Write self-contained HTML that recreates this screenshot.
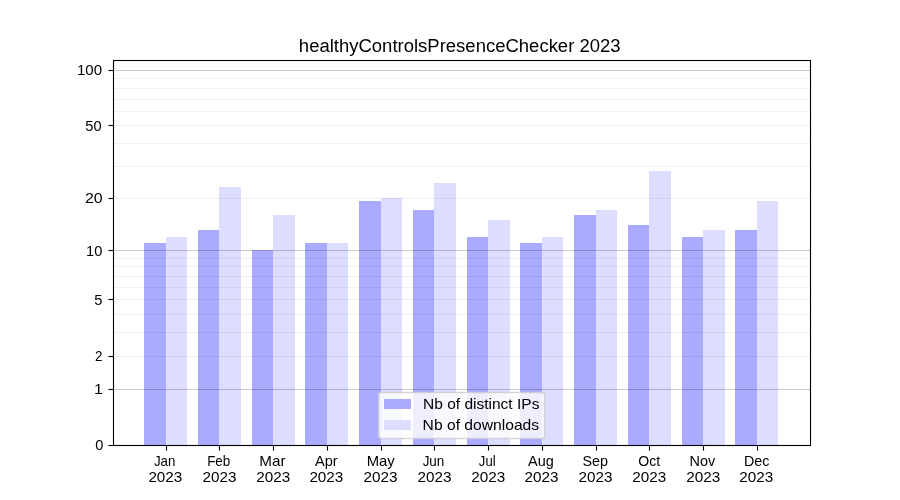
<!DOCTYPE html>
<html><head><meta charset="utf-8"><title>healthyControlsPresenceChecker 2023</title>
<style>
html,body{margin:0;padding:0;background:#fff;overflow:hidden;}
svg{display:block;will-change:transform;}
text{font-family:"Liberation Sans",sans-serif;fill:#000;}
</style></head><body>
<svg width="900" height="500" viewBox="0 0 900 500">
<rect x="0" y="0" width="900" height="500" fill="#fff"/>
<g shape-rendering="crispEdges">
<rect x="144" y="243" width="22" height="202" fill="#aaaaff"/>
<rect x="166" y="237" width="21" height="208" fill="#ddddff"/>
<rect x="198" y="230" width="21" height="215" fill="#aaaaff"/>
<rect x="219" y="187" width="22" height="258" fill="#ddddff"/>
<rect x="252" y="250" width="21" height="195" fill="#aaaaff"/>
<rect x="273" y="215" width="22" height="230" fill="#ddddff"/>
<rect x="305" y="243" width="22" height="202" fill="#aaaaff"/>
<rect x="327" y="243" width="21" height="202" fill="#ddddff"/>
<rect x="359" y="201" width="22" height="244" fill="#aaaaff"/>
<rect x="381" y="198" width="21" height="247" fill="#ddddff"/>
<rect x="413" y="210" width="21" height="235" fill="#aaaaff"/>
<rect x="434" y="183" width="22" height="262" fill="#ddddff"/>
<rect x="467" y="237" width="21" height="208" fill="#aaaaff"/>
<rect x="488" y="220" width="22" height="225" fill="#ddddff"/>
<rect x="520" y="243" width="22" height="202" fill="#aaaaff"/>
<rect x="542" y="237" width="21" height="208" fill="#ddddff"/>
<rect x="574" y="215" width="22" height="230" fill="#aaaaff"/>
<rect x="596" y="210" width="21" height="235" fill="#ddddff"/>
<rect x="628" y="225" width="21" height="220" fill="#aaaaff"/>
<rect x="649" y="171" width="22" height="274" fill="#ddddff"/>
<rect x="682" y="237" width="21" height="208" fill="#aaaaff"/>
<rect x="703" y="230" width="22" height="215" fill="#ddddff"/>
<rect x="735" y="230" width="22" height="215" fill="#aaaaff"/>
<rect x="757" y="201" width="21" height="244" fill="#ddddff"/>
<rect x="113" y="356" width="697" height="1" fill="#000" fill-opacity="0.06"/>
<rect x="113" y="332" width="697" height="1" fill="#000" fill-opacity="0.06"/>
<rect x="113" y="314" width="697" height="1" fill="#000" fill-opacity="0.06"/>
<rect x="113" y="299" width="697" height="1" fill="#000" fill-opacity="0.06"/>
<rect x="113" y="287" width="697" height="1" fill="#000" fill-opacity="0.06"/>
<rect x="113" y="276" width="697" height="1" fill="#000" fill-opacity="0.06"/>
<rect x="113" y="266" width="697" height="1" fill="#000" fill-opacity="0.06"/>
<rect x="113" y="258" width="697" height="1" fill="#000" fill-opacity="0.06"/>
<rect x="113" y="198" width="697" height="1" fill="#000" fill-opacity="0.06"/>
<rect x="113" y="166" width="697" height="1" fill="#000" fill-opacity="0.06"/>
<rect x="113" y="143" width="697" height="1" fill="#000" fill-opacity="0.06"/>
<rect x="113" y="125" width="697" height="1" fill="#000" fill-opacity="0.06"/>
<rect x="113" y="111" width="697" height="1" fill="#000" fill-opacity="0.06"/>
<rect x="113" y="99" width="697" height="1" fill="#000" fill-opacity="0.06"/>
<rect x="113" y="88" width="697" height="1" fill="#000" fill-opacity="0.06"/>
<rect x="113" y="78" width="697" height="1" fill="#000" fill-opacity="0.06"/>
<rect x="113" y="389" width="697" height="1" fill="#000" fill-opacity="0.2"/>
<rect x="113" y="250" width="697" height="1" fill="#000" fill-opacity="0.2"/>
<rect x="113" y="70" width="697" height="1" fill="#000" fill-opacity="0.2"/>
</g>
<rect x="378.600" y="392.500" width="166.000" height="46.000" rx="2.78" ry="2.78" fill="#fff" fill-opacity="0.8" stroke="#ccc" stroke-opacity="0.8" stroke-width="1.389"/>
<g shape-rendering="crispEdges">
<rect x="384" y="399" width="27" height="10" fill="#aaaaff"/>
<rect x="384" y="420" width="27" height="10" fill="#ddddff"/>
<g fill="#000" fill-opacity="0.0556"><rect x="113" y="59" width="698" height="1"/><rect x="113" y="61" width="697" height="1"/><rect x="113" y="444" width="698" height="1"/><rect x="108" y="446" width="703" height="1"/><rect x="112" y="60" width="1" height="386"/><rect x="114" y="61" width="1" height="384"/><rect x="809" y="61" width="1" height="384"/><rect x="811" y="60" width="1" height="386"/><rect x="108" y="388" width="5" height="1"/><rect x="108" y="390" width="5" height="1"/><rect x="108" y="355" width="5" height="1"/><rect x="108" y="357" width="5" height="1"/><rect x="108" y="298" width="5" height="1"/><rect x="108" y="300" width="5" height="1"/><rect x="108" y="249" width="5" height="1"/><rect x="108" y="251" width="5" height="1"/><rect x="108" y="197" width="5" height="1"/><rect x="108" y="199" width="5" height="1"/><rect x="108" y="124" width="5" height="1"/><rect x="108" y="126" width="5" height="1"/><rect x="108" y="69" width="5" height="1"/><rect x="108" y="71" width="5" height="1"/><rect x="165" y="447" width="1" height="4"/><rect x="167" y="447" width="1" height="4"/><rect x="218" y="447" width="1" height="4"/><rect x="220" y="447" width="1" height="4"/><rect x="272" y="447" width="1" height="4"/><rect x="274" y="447" width="1" height="4"/><rect x="326" y="447" width="1" height="4"/><rect x="328" y="447" width="1" height="4"/><rect x="380" y="447" width="1" height="4"/><rect x="382" y="447" width="1" height="4"/><rect x="433" y="447" width="1" height="4"/><rect x="435" y="447" width="1" height="4"/><rect x="487" y="447" width="1" height="4"/><rect x="489" y="447" width="1" height="4"/><rect x="541" y="447" width="1" height="4"/><rect x="543" y="447" width="1" height="4"/><rect x="595" y="447" width="1" height="4"/><rect x="597" y="447" width="1" height="4"/><rect x="648" y="447" width="1" height="4"/><rect x="650" y="447" width="1" height="4"/><rect x="702" y="447" width="1" height="4"/><rect x="704" y="447" width="1" height="4"/><rect x="756" y="447" width="1" height="4"/><rect x="758" y="447" width="1" height="4"/></g>
<rect x="113" y="60" width="698" height="1" fill="#000"/>
<rect x="113" y="445" width="698" height="1" fill="#000"/>
<rect x="113" y="60" width="1" height="386" fill="#000"/>
<rect x="810" y="60" width="1" height="386" fill="#000"/>
<rect x="109" y="445" width="4" height="1" fill="#000"/><rect x="108" y="445" width="1" height="1" fill="#000" fill-opacity="0.5"/>
<rect x="109" y="389" width="4" height="1" fill="#000"/><rect x="108" y="389" width="1" height="1" fill="#000" fill-opacity="0.5"/>
<rect x="109" y="356" width="4" height="1" fill="#000"/><rect x="108" y="356" width="1" height="1" fill="#000" fill-opacity="0.5"/>
<rect x="109" y="299" width="4" height="1" fill="#000"/><rect x="108" y="299" width="1" height="1" fill="#000" fill-opacity="0.5"/>
<rect x="109" y="250" width="4" height="1" fill="#000"/><rect x="108" y="250" width="1" height="1" fill="#000" fill-opacity="0.5"/>
<rect x="109" y="198" width="4" height="1" fill="#000"/><rect x="108" y="198" width="1" height="1" fill="#000" fill-opacity="0.5"/>
<rect x="109" y="125" width="4" height="1" fill="#000"/><rect x="108" y="125" width="1" height="1" fill="#000" fill-opacity="0.5"/>
<rect x="109" y="70" width="4" height="1" fill="#000"/><rect x="108" y="70" width="1" height="1" fill="#000" fill-opacity="0.5"/>
<rect x="166" y="446" width="1" height="4" fill="#000"/><rect x="166" y="450" width="1" height="1" fill="#000" fill-opacity="0.5"/>
<rect x="219" y="446" width="1" height="4" fill="#000"/><rect x="219" y="450" width="1" height="1" fill="#000" fill-opacity="0.5"/>
<rect x="273" y="446" width="1" height="4" fill="#000"/><rect x="273" y="450" width="1" height="1" fill="#000" fill-opacity="0.5"/>
<rect x="327" y="446" width="1" height="4" fill="#000"/><rect x="327" y="450" width="1" height="1" fill="#000" fill-opacity="0.5"/>
<rect x="381" y="446" width="1" height="4" fill="#000"/><rect x="381" y="450" width="1" height="1" fill="#000" fill-opacity="0.5"/>
<rect x="434" y="446" width="1" height="4" fill="#000"/><rect x="434" y="450" width="1" height="1" fill="#000" fill-opacity="0.5"/>
<rect x="488" y="446" width="1" height="4" fill="#000"/><rect x="488" y="450" width="1" height="1" fill="#000" fill-opacity="0.5"/>
<rect x="542" y="446" width="1" height="4" fill="#000"/><rect x="542" y="450" width="1" height="1" fill="#000" fill-opacity="0.5"/>
<rect x="596" y="446" width="1" height="4" fill="#000"/><rect x="596" y="450" width="1" height="1" fill="#000" fill-opacity="0.5"/>
<rect x="649" y="446" width="1" height="4" fill="#000"/><rect x="649" y="450" width="1" height="1" fill="#000" fill-opacity="0.5"/>
<rect x="703" y="446" width="1" height="4" fill="#000"/><rect x="703" y="450" width="1" height="1" fill="#000" fill-opacity="0.5"/>
<rect x="757" y="446" width="1" height="4" fill="#000"/><rect x="757" y="450" width="1" height="1" fill="#000" fill-opacity="0.5"/>
</g>
<text x="459.73" y="51.94" font-size="17.60" text-anchor="middle" textLength="321.76" lengthAdjust="spacingAndGlyphs">healthyControlsPresenceChecker 2023</text>
<text x="103.42" y="450.13" font-size="14.20" text-anchor="end" textLength="8.14" lengthAdjust="spacingAndGlyphs">0</text>
<text x="102.79" y="393.68" font-size="14.20" text-anchor="end" textLength="8.84" lengthAdjust="spacingAndGlyphs">1</text>
<text x="102.42" y="361.27" font-size="14.20" text-anchor="end" textLength="7.44" lengthAdjust="spacingAndGlyphs">2</text>
<text x="102.47" y="304.91" font-size="14.20" text-anchor="end" textLength="8.14" lengthAdjust="spacingAndGlyphs">5</text>
<text x="102.35" y="256.21" font-size="14.20" text-anchor="end" textLength="16.27" lengthAdjust="spacingAndGlyphs">10</text>
<text x="102.65" y="203.18" font-size="14.20" text-anchor="end" textLength="17.67" lengthAdjust="spacingAndGlyphs">20</text>
<text x="101.61" y="130.94" font-size="14.20" text-anchor="end" textLength="16.27" lengthAdjust="spacingAndGlyphs">50</text>
<text x="102.02" y="74.78" font-size="14.20" text-anchor="end" textLength="25.11" lengthAdjust="spacingAndGlyphs">100</text>
<text x="164.70" y="466.20" font-size="14.20" text-anchor="middle" textLength="21.41" lengthAdjust="spacingAndGlyphs">Jan</text>
<text x="165.35" y="482.02" font-size="14.20" text-anchor="middle" textLength="33.95" lengthAdjust="spacingAndGlyphs">2023</text>
<text x="218.74" y="465.86" font-size="14.20" text-anchor="middle" textLength="23.19" lengthAdjust="spacingAndGlyphs">Feb</text>
<text x="219.40" y="482.02" font-size="14.20" text-anchor="middle" textLength="33.95" lengthAdjust="spacingAndGlyphs">2023</text>
<text x="272.41" y="465.57" font-size="14.20" text-anchor="middle" textLength="26.20" lengthAdjust="spacingAndGlyphs">Mar</text>
<text x="273.29" y="482.01" font-size="14.20" text-anchor="middle" textLength="33.95" lengthAdjust="spacingAndGlyphs">2023</text>
<text x="326.40" y="465.83" font-size="14.20" text-anchor="middle" textLength="22.63" lengthAdjust="spacingAndGlyphs">Apr</text>
<text x="326.35" y="482.02" font-size="14.20" text-anchor="middle" textLength="33.95" lengthAdjust="spacingAndGlyphs">2023</text>
<text x="380.63" y="465.95" font-size="14.20" text-anchor="middle" textLength="28.01" lengthAdjust="spacingAndGlyphs">May</text>
<text x="380.40" y="482.02" font-size="14.20" text-anchor="middle" textLength="33.95" lengthAdjust="spacingAndGlyphs">2023</text>
<text x="433.48" y="466.06" font-size="14.20" text-anchor="middle" textLength="21.70" lengthAdjust="spacingAndGlyphs">Jun</text>
<text x="434.40" y="482.01" font-size="14.20" text-anchor="middle" textLength="33.95" lengthAdjust="spacingAndGlyphs">2023</text>
<text x="487.22" y="466.20" font-size="14.20" text-anchor="middle" textLength="16.76" lengthAdjust="spacingAndGlyphs">Jul</text>
<text x="488.29" y="482.01" font-size="14.20" text-anchor="middle" textLength="33.95" lengthAdjust="spacingAndGlyphs">2023</text>
<text x="541.00" y="466.06" font-size="14.20" text-anchor="middle" textLength="25.72" lengthAdjust="spacingAndGlyphs">Aug</text>
<text x="541.40" y="482.02" font-size="14.20" text-anchor="middle" textLength="33.95" lengthAdjust="spacingAndGlyphs">2023</text>
<text x="595.31" y="466.29" font-size="14.20" text-anchor="middle" textLength="25.48" lengthAdjust="spacingAndGlyphs">Sep</text>
<text x="595.40" y="482.02" font-size="14.20" text-anchor="middle" textLength="33.95" lengthAdjust="spacingAndGlyphs">2023</text>
<text x="649.30" y="465.61" font-size="14.20" text-anchor="middle" textLength="21.91" lengthAdjust="spacingAndGlyphs">Oct</text>
<text x="649.36" y="482.02" font-size="14.20" text-anchor="middle" textLength="33.95" lengthAdjust="spacingAndGlyphs">2023</text>
<text x="702.46" y="466.11" font-size="14.20" text-anchor="middle" textLength="25.71" lengthAdjust="spacingAndGlyphs">Nov</text>
<text x="703.22" y="482.00" font-size="14.20" text-anchor="middle" textLength="33.95" lengthAdjust="spacingAndGlyphs">2023</text>
<text x="756.74" y="465.98" font-size="14.20" text-anchor="middle" textLength="25.48" lengthAdjust="spacingAndGlyphs">Dec</text>
<text x="756.36" y="482.01" font-size="14.20" text-anchor="middle" textLength="33.95" lengthAdjust="spacingAndGlyphs">2023</text>
<text x="423.01" y="408.81" font-size="14.20" text-anchor="start" textLength="116.40" lengthAdjust="spacingAndGlyphs">Nb of distinct IPs</text>
<text x="422.64" y="429.88" font-size="14.20" text-anchor="start" textLength="116.52" lengthAdjust="spacingAndGlyphs">Nb of downloads</text>
</svg>
</body></html>
